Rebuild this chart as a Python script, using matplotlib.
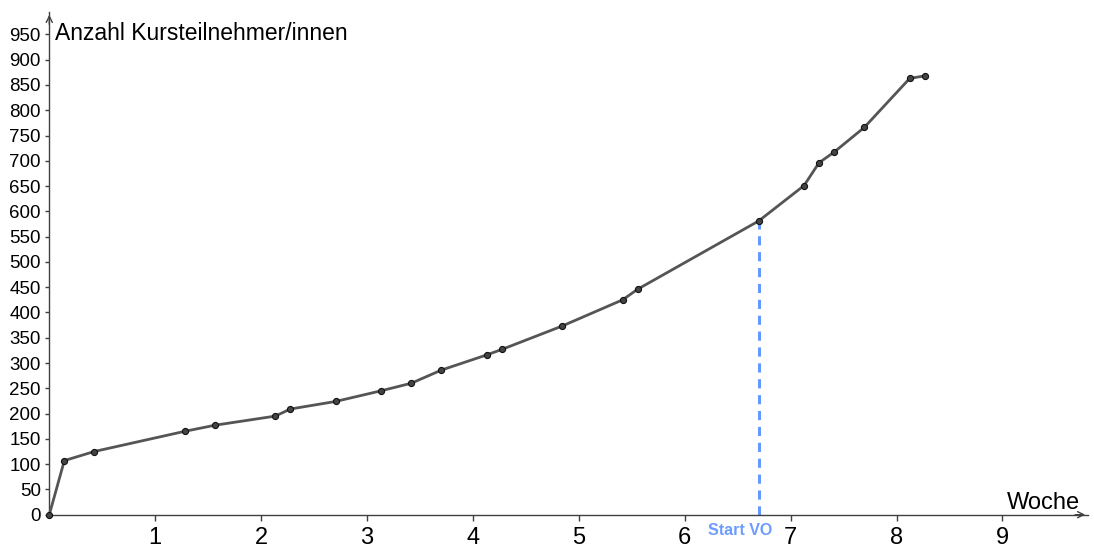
import matplotlib
matplotlib.use("Agg")
import matplotlib.pyplot as plt

plt.rcParams['font.family'] = ['Liberation Sans', 'DejaVu Sans']

weeks = [0.0, 0.142, 0.425, 1.281, 1.565, 2.134, 2.276, 2.704, 3.132, 3.418, 3.702,
         4.130, 4.275, 4.841, 5.414, 5.556, 6.699, 7.127, 7.268, 7.410, 7.696, 8.125, 8.269]
participants = [0, 107, 125, 165, 177, 195, 209, 224, 245, 260, 286,
                316, 327, 373, 425, 446, 581, 651, 696, 717, 766, 863, 868]
start_vo_week = 6.699
start_vo_value = 581
x_ticks = [1, 2, 3, 4, 5, 6, 7, 8, 9]
y_ticks = list(range(0, 1000, 50))

W, H = 1094, 548
fig = plt.figure(figsize=(W / 100, H / 100), dpi=100)
x0, y0 = 49.3, 514.7
x1, y1 = 1088, 12
ax = fig.add_axes([x0 / W, (H - y0) / H, (x1 - x0) / W, (y0 - y1) / H])
px_per_x = 105.9
px_per_y = 0.5056
ax.set_xlim(0, (x1 - x0) / px_per_x)
ax.set_ylim(0, (y0 - y1) / px_per_y)

axis_col = '#404040'
for s in ['top', 'right']:
    ax.spines[s].set_visible(False)
for s in ['left', 'bottom']:
    ax.spines[s].set_color(axis_col)
    ax.spines[s].set_linewidth(1.0)

ax.set_xticks(x_ticks)
ax.set_xticklabels([str(t) for t in x_ticks], fontsize=17)
ax.set_yticks(y_ticks)
ax.set_yticklabels([str(t) for t in y_ticks], fontsize=13.5)
ax.tick_params(axis='x', length=4, width=1, color=axis_col, pad=5)
ax.tick_params(axis='y', length=3, width=1, color=axis_col, pad=3)

# arrows at axis ends
ax.annotate('', xy=(1.0, 0), xytext=(0.985, 0), xycoords='axes fraction',
            arrowprops=dict(arrowstyle='->', color=axis_col, lw=1.0, mutation_scale=11),
            annotation_clip=False)
ax.annotate('', xy=(0, 1.0), xytext=(0, 0.97), xycoords='axes fraction',
            arrowprops=dict(arrowstyle='->', color=axis_col, lw=1.0, mutation_scale=11),
            annotation_clip=False)

# Start VO dashed line
ax.plot([start_vo_week, start_vo_week], [0, start_vo_value], color='#6699ff',
        lw=2.2, ls=(0, (3, 2.2)), zorder=2, clip_on=False)
ax.text(6.52, -16, 'Start VO', color='#6d9cff', fontsize=11.5, fontweight='bold',
        ha='center', va='top')

ax.plot(weeks, participants, color='#555555', lw=2.0, zorder=3, clip_on=False,
        marker='o', markersize=4.4, markerfacecolor='#444444',
        markeredgecolor='#111111', markeredgewidth=0.8)

ax.text(0.055, 939, 'Anzahl Kursteilnehmer/innen', fontsize=16.5, ha='left', va='baseline')
ax.text(9.733, 11, 'Woche', fontsize=17, ha='right', va='baseline')

fig.savefig('out.png', dpi=100)
